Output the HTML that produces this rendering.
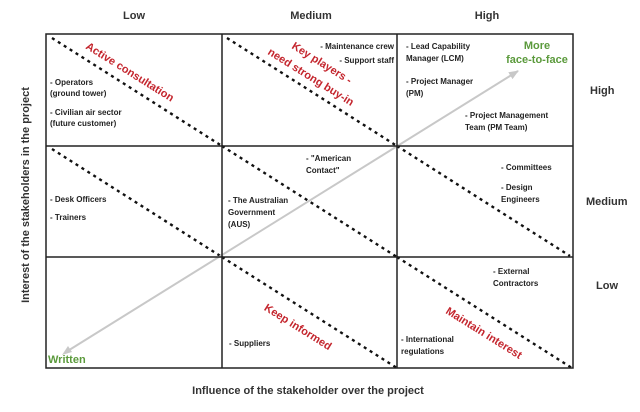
<!DOCTYPE html>
<html><head><meta charset="utf-8"><style>
html,body{margin:0;padding:0;background:#fff;width:640px;height:412px;overflow:hidden}
svg{display:block}
text{font-family:"Liberation Sans",Arial,sans-serif;font-weight:bold}
.c{font-size:8px;fill:#222}
.r{font-size:11px;fill:#c4262e}
.g{font-size:11px;fill:#5b9a3c}
.h{font-size:11px;fill:#333}
</style></head><body>
<svg width="640" height="412" viewBox="0 0 640 412" xmlns="http://www.w3.org/2000/svg">
<defs>
<marker id="ah" markerWidth="10" markerHeight="8" refX="9" refY="4" orient="auto" markerUnits="userSpaceOnUse">
<path d="M0,0 L10,4 L0,8 z" fill="#c8c8c8"/></marker>
</defs>
<g stroke="#111" stroke-width="2.4" stroke-dasharray="3,4" fill="none">
<line x1="52" y1="38" x2="222" y2="146"/>
<line x1="227" y1="38" x2="397" y2="146"/>
<line x1="52" y1="149" x2="222" y2="257"/>
<line x1="222" y1="146" x2="397" y2="257"/>
<line x1="397" y1="146" x2="570" y2="256"/>
<line x1="222" y1="257" x2="397" y2="368"/>
<line x1="397" y1="257" x2="572" y2="368"/>
</g>
<line x1="66" y1="352" x2="518" y2="71" stroke="#c8c8c8" stroke-width="2" marker-end="url(#ah)" marker-start="url(#ah2)"/>
<path d="M62,355 L68,346 L72,352 z" fill="#c8c8c8"/>
<g stroke="#222" stroke-width="1.5" fill="none">
<rect x="46" y="34" width="527" height="334"/>
<line x1="222" y1="34" x2="222" y2="368"/>
<line x1="397" y1="34" x2="397" y2="368"/>
<line x1="46" y1="146" x2="573" y2="146"/>
<line x1="46" y1="257" x2="573" y2="257"/>
</g>
<text class="h" x="134" y="19" text-anchor="middle">Low</text>
<text class="h" x="311" y="19" text-anchor="middle">Medium</text>
<text class="h" x="487" y="19" text-anchor="middle">High</text>
<text class="h" x="590" y="94">High</text>
<text class="h" x="586" y="205">Medium</text>
<text class="h" x="596" y="289">Low</text>
<text class="h" x="308" y="394" text-anchor="middle">Influence of the stakeholder over the project</text>
<text class="h" x="0" y="0" text-anchor="middle" transform="translate(29,195) rotate(-90)">Interest of the stakeholders in the project</text>

<text class="c" x="50" y="85">- Operators</text>
<text class="c" x="50" y="96">(ground tower)</text>
<text class="c" x="50" y="115">- Civilian air sector</text>
<text class="c" x="50" y="126">(future customer)</text>
<text class="c" x="394" y="49" text-anchor="end">- Maintenance crew</text>
<text class="c" x="394" y="63" text-anchor="end">- Support staff</text>
<text class="c" x="406" y="49">- Lead Capability</text>
<text class="c" x="406" y="61">Manager (LCM)</text>
<text class="c" x="406" y="84">- Project Manager</text>
<text class="c" x="406" y="96">(PM)</text>
<text class="c" x="465" y="118">- Project Management</text>
<text class="c" x="465" y="130">Team (PM Team)</text>
<text class="g" x="537" y="49" text-anchor="middle">More</text>
<text class="g" x="537" y="63" text-anchor="middle">face-to-face</text>

<text class="c" x="50" y="202">- Desk Officers</text>
<text class="c" x="50" y="220">- Trainers</text>
<text class="c" x="306" y="161">- "American</text>
<text class="c" x="306" y="173">Contact"</text>
<text class="c" x="228" y="203">- The Australian</text>
<text class="c" x="228" y="215">Government</text>
<text class="c" x="228" y="227">(AUS)</text>
<text class="c" x="501" y="170">- Committees</text>
<text class="c" x="501" y="190">- Design</text>
<text class="c" x="501" y="202">Engineers</text>

<text class="c" x="493" y="274">- External</text>
<text class="c" x="493" y="286">Contractors</text>
<text class="c" x="229" y="346">- Suppliers</text>
<text class="c" x="401" y="342">- International</text>
<text class="c" x="401" y="354">regulations</text>
<text class="g" x="48" y="363">Written</text>

<text class="r" text-anchor="middle" transform="translate(128,75) rotate(32)">Active consultation</text>
<text class="r" text-anchor="middle" transform="translate(320,66) rotate(32)">Key players -</text>
<text class="r" text-anchor="middle" transform="translate(309,80) rotate(32)">need strong buy-in</text>
<text class="r" text-anchor="middle" transform="translate(296,330) rotate(32)">Keep informed</text>
<text class="r" text-anchor="middle" transform="translate(482,336) rotate(32)">Maintain interest</text>
</svg>
</body></html>
